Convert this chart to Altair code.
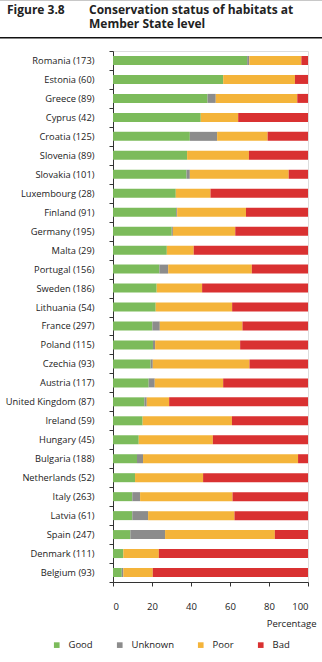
import altair as alt
import pandas as pd

countries = [
    "Romania (173)", "Estonia (60)", "Greece (89)", "Cyprus (42)", "Croatia (125)",
    "Slovenia (89)", "Slovakia (101)", "Luxembourg (28)", "Finland (91)", "Germany (195)",
    "Malta (29)", "Portugal (156)", "Sweden (186)", "Lithuania (54)", "France (297)",
    "Poland  (115)", "Czechia (93)", "Austria (117)", "United Kingdom (87)", "Ireland (59)",
    "Hungary (45)", "Bulgaria (188)", "Netherlands (52)", "Italy (263)", "Latvia (61)",
    "Spain (247)", "Denmark (111)", "Belgium (93)",
]
good = [68.8, 56.5, 48.5, 45.0, 39.4, 38.0, 37.7, 32.2, 32.4, 30.1,
        27.6, 23.8, 22.4, 21.9, 20.2, 20.5, 19.3, 18.3, 16.1, 15.2,
        13.2, 12.3, 11.3, 9.9, 9.9, 8.9, 5.3, 4.5]
unknown = [1.1, 0.0, 4.2, 0.0, 14.0, 0.0, 1.7, 0.0, 0.5, 0.6,
           0.0, 4.5, 0.0, 0.0, 3.8, 1.1, 1.1, 3.1, 1.2, 0.0,
           0.0, 3.1, 0.0, 4.0, 8.1, 17.8, 0.0, 0.8]
poor = [26.7, 36.8, 41.8, 19.2, 25.9, 31.7, 50.7, 17.8, 35.3, 32.0,
        13.8, 42.9, 23.3, 39.2, 42.4, 43.6, 49.6, 35.1, 11.5, 45.8,
        38.0, 79.5, 34.9, 47.4, 44.3, 56.3, 18.2, 15.1]
bad = [3.4, 6.7, 5.5, 35.8, 20.7, 30.3, 9.9, 50.0, 31.8, 37.3,
       58.6, 28.8, 54.3, 38.9, 33.6, 34.8, 30.0, 43.5, 71.2, 39.0,
       48.8, 5.1, 53.8, 38.7, 37.7, 17.0, 76.5, 79.6]
statuses = ["Good", "Unknown", "Poor", "Bad"]
colors = ["#7cbb5b", "#8c8c8c", "#f4b43a", "#d93131"]
x_ticks = [0, 20, 40, 60, 80, 100]
title_lines = ["Conservation status of habitats at", "Member State level"]

rows = []
for i, c in enumerate(countries):
    for j, (s, vals) in enumerate(zip(statuses, [good, unknown, poor, bad])):
        rows.append({"country": c, "status": s, "order": j, "value": vals[i]})
df = pd.DataFrame(rows)

FONT = "Open Sans"
TXT = "#222222"

bars = alt.Chart(df).mark_bar(height=9).encode(
    x=alt.X(
        "value:Q", stack="zero",
        scale=alt.Scale(domain=[0, 100], nice=False),
        axis=alt.Axis(
            values=x_ticks, title="Percentage", grid=False, tickSize=4,
            labelPadding=15, domainColor="#333333", tickColor="#333333",
            labelColor=TXT, labelFont=FONT, labelFontSize=9.5,
            titleFont=FONT, titleFontSize=9.5, titleFontWeight="normal",
            titleColor=TXT, titleAlign="right", titleBaseline="middle",
            titleX=203, titleY=41,
        ),
    ),
    y=alt.Y(
        "country:N", sort=countries,
        scale=alt.Scale(paddingInner=0, paddingOuter=0),
        axis=alt.Axis(
            title=None, tickBand="extent", tickSize=4, labelPadding=15,
            domainColor="#333333", tickColor="#333333", labelColor=TXT,
            labelFont=FONT, labelFontSize=9.3,
        ),
    ),
    color=alt.Color(
        "status:N",
        scale=alt.Scale(domain=statuses, range=colors),
        legend=alt.Legend(
            title=None, orient="none", legendX=-61, legendY=589,
            direction="horizontal", symbolType="square", symbolSize=32,
            symbolStrokeWidth=0, labelFont=FONT, labelFontSize=9.5,
            labelColor=TXT, columnPadding=22, labelOffset=7, padding=0,
        ),
    ),
    order=alt.Order("order:Q", sort="ascending"),
)

one = alt.Data(values=[{}])
fig = alt.Chart(one).mark_text(
    text="Figure 3.8", font=FONT, fontSize=12, fontWeight="bold",
    align="left", baseline="top", color=TXT,
).encode(x=alt.value(-106), y=alt.value(-46))
title = alt.Chart(one).mark_text(
    text=title_lines, font=FONT, fontSize=12, lineHeight=14,
    fontWeight="bold", align="left", baseline="top", color=TXT,
).encode(x=alt.value(-24), y=alt.value(-46))
top_line = alt.Chart(one).mark_rule(color="#c8c8c8", strokeWidth=1).encode(
    x=alt.value(-113), x2=alt.value(209), y=alt.value(-50.5))
black_line = alt.Chart(one).mark_rule(color="#111111", strokeWidth=1.5).encode(
    x=alt.value(-113), x2=alt.value(209), y=alt.value(-13.3))

chart = alt.layer(bars, fig, title, top_line, black_line).properties(
    width=195, height=531,
    autosize=alt.AutoSizeParams(type="none"),
    padding={"left": 113, "top": 51, "right": 14, "bottom": 80},
).configure_view(stroke=None).configure(background="white")

chart.save("out.html", embed_options={"renderer": "svg", "actions": False})
